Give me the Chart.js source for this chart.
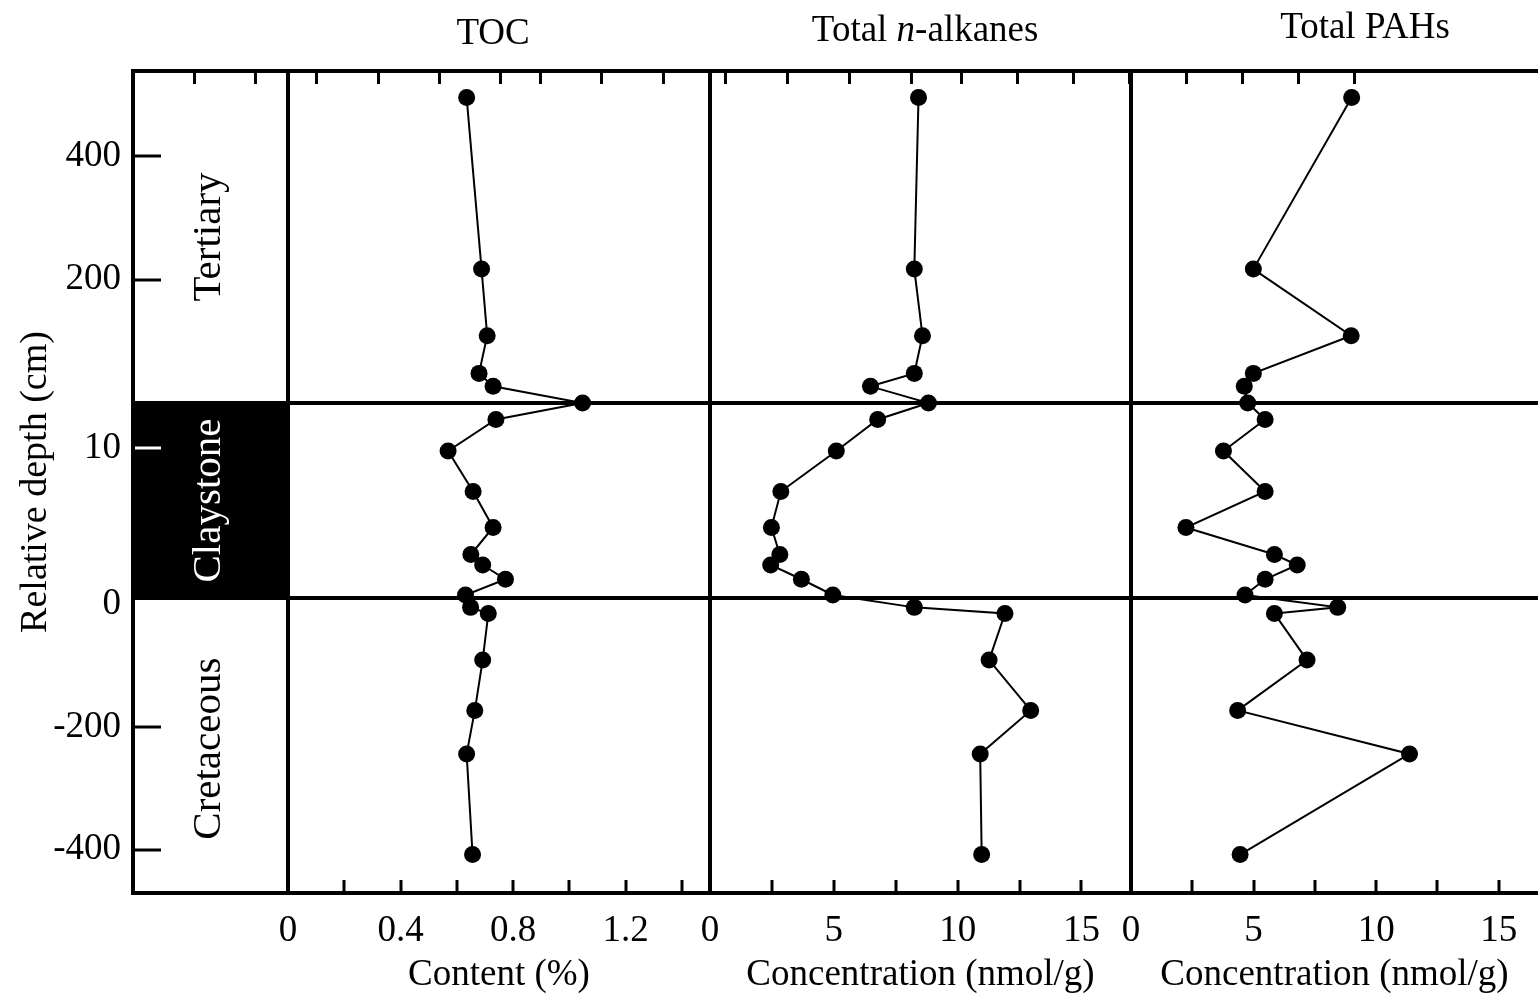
<!DOCTYPE html>
<html>
<head>
<meta charset="utf-8">
<title>TOC, n-alkanes and PAHs across the claystone</title>
<script src="https://cdn.jsdelivr.net/npm/chart.js@4.4.1/dist/chart.umd.min.js"></script>
<style>
  html, body { margin: 0; padding: 0; background: #fff; }
  #wrap { width: 1538px; height: 1000px; }
</style>
</head>
<body>
<div id="wrap"><canvas id="depthChart" width="1538" height="1000"></canvas></div>
<script>
// samples from top to bottom; zone T = Tertiary, C = claystone, K = Cretaceous
const sampleZone = ["T", "T", "T", "T", "T", "T", "C", "C", "C", "C", "C", "C", "C", "C", "K", "K", "K", "K", "K", "K"];
const sampleDepth = [495, 217, 109, 48, 27, 0, 11.9, 9.8, 7.1, 4.7, 2.9, 2.2, 1.25, 0.2, -5, -15, -91, -173, -244, -408];

const tocValues = [0.635, 0.688, 0.708, 0.679, 0.729, 1.047, 0.739, 0.569, 0.658, 0.729, 0.65, 0.692, 0.773, 0.631, 0.649, 0.712, 0.692, 0.664, 0.635, 0.656];
const alkaneValues = [8.42, 8.25, 8.58, 8.25, 6.48, 8.82, 6.77, 5.1, 2.86, 2.48, 2.82, 2.45, 3.69, 4.96, 8.25, 11.91, 11.27, 12.95, 10.91, 10.97];
const pahValues = [9.0, 4.99, 8.98, 4.99, 4.62, 4.76, 5.47, 3.77, 5.47, 2.24, 5.85, 6.78, 5.47, 4.65, 8.43, 5.85, 7.18, 4.35, 11.36, 4.45];

// depth axis ticks
const yTickZones = ["K", "K", "K", "C", "T", "T"];
const yTickDepths = [-400, -200, 0, 10, 200, 400];
const yTickLabels = ["-400", "-200", "0", "10", "200", "400"];
const claystoneBase = 0;
const claystoneTop = 13;

// concentration axes
const tocTicks = [0, 0.2, 0.4, 0.6, 0.8, 1.0, 1.2, 1.4];
const tocTickLabels = ["0", "", "0.4", "", "0.8", "", "1.2", ""];
const concTicks = [0, 2.5, 5, 7.5, 10, 12.5, 15];
const concTickLabels = ["0", "", "5", "", "10", "", "15"];

const stratNames = ["Tertiary", "Claystone", "Cretaceous"];
const panelTitles = [
  [["TOC", false]],
  [["Total ", false], ["n", true], ["-alkanes", false]],
  [["Total PAHs", false]],
];
const bottomTitles = ["Content (%)", "Concentration (nmol/g)", "Concentration (nmol/g)"];

// the depth axis is broken into three linear pieces
const zoneAxis = {
  K: { start: 288.7, perCm: 0.6133 },
  C: { start: 295, perCm: 15 },
  T: { start: 490, perCm: 0.617 },
};
const depthAxisMax = 822;

function depthPos(zone, depth) {
  return zoneAxis[zone].start + zoneAxis[zone].perCm * depth;
}

const black = "#000";
const clear = "rgba(0,0,0,0)";
const serif = "'Liberation Serif', 'Times New Roman', serif";

let yTicks = yTickZones.map((zone, i) => ({
  pos: depthPos(zone, yTickDepths[i]),
  label: yTickLabels[i],
  zone: zone,
  depth: yTickDepths[i],
  boundary: false,
}));
[claystoneBase, claystoneTop].forEach((d) => {
  yTicks.push({ pos: depthPos("C", d), label: "", zone: "C", depth: d, boundary: true });
});
yTicks.sort((a, b) => a.pos - b.pos);

function isBoundary(c) {
  return c.tick !== undefined && yTicks[c.index] && yTicks[c.index].boundary;
}

function yTickColor(c) {
  if (c.tick === undefined) return black;
  const t = yTicks[c.index];
  if (!t || t.boundary) return clear;
  if (t.zone === "C") return "#fff";
  if (t.depth === 0) return clear;
  return black;
}

function bottomAxis(weight, min, max, tickVals, tickLabels, title) {
  return {
    type: "linear",
    position: "bottom",
    stack: "bottom",
    stackWeight: weight,
    min: min,
    max: max,
    afterBuildTicks: (scale) => {
      scale.ticks = tickVals.map((v) => ({ value: v }));
    },
    afterFit: (scale) => {
      scale.height = 107;
      scale.paddingLeft = 0;
      scale.paddingRight = 0;
    },
    ticks: {
      display: tickVals.length > 0,
      autoSkip: false,
      maxRotation: 0,
      padding: 29,
      color: black,
      font: { family: serif, size: 37 },
      callback: (v, i) => tickLabels[i],
    },
    grid: {
      drawOnChartArea: true,
      tickLength: -13,
      tickWidth: 3,
      tickColor: black,
      color: (c) => (c.tick && c.tick.value === 0 ? black : clear),
      lineWidth: (c) => (c.tick && c.tick.value === 0 ? 4 : 0),
    },
    border: { display: true, color: black, width: 4 },
    title: {
      display: !!title,
      text: title || "",
      color: black,
      font: { family: serif, size: 37 },
      padding: { top: 0, bottom: 3 },
    },
  };
}

function topAxis(weight, min, max, tickVals) {
  return {
    type: "linear",
    position: "top",
    stack: "top",
    stackWeight: weight,
    min: min,
    max: max,
    afterBuildTicks: (scale) => {
      scale.ticks = tickVals.map((v) => ({ value: v }));
    },
    afterFit: (scale) => {
      scale.height = 71;
      scale.paddingLeft = 0;
      scale.paddingRight = 0;
    },
    ticks: { display: false },
    grid: { drawOnChartArea: false, tickLength: -13, tickWidth: 3, tickColor: black, color: black },
    border: { display: true, color: black, width: 4 },
  };
}

function series(values, axisId) {
  return {
    data: values.map((v, i) => ({ x: v, y: depthPos(sampleZone[i], sampleDepth[i]) })),
    xAxisID: axisId,
    yAxisID: "y",
    borderColor: black,
    borderWidth: 2,
    backgroundColor: black,
    pointRadius: 8.5,
    pointHoverRadius: 8.5,
    pointBackgroundColor: black,
    pointBorderWidth: 0,
    fill: false,
    tension: 0,
  };
}

// black claystone band in the lithology column, drawn under the axes
const claystoneBand = {
  id: "claystoneBand",
  beforeDraw(chart) {
    const ctx = chart.ctx;
    const y = chart.scales.y;
    const xs = chart.scales.xs;
    const top = y.getPixelForValue(depthPos("C", claystoneTop));
    const bottom = y.getPixelForValue(depthPos("C", claystoneBase));
    ctx.save();
    ctx.fillStyle = black;
    ctx.fillRect(xs.left, top, xs.right - xs.left, bottom - top);
    ctx.restore();
  },
};

// lithology names, and the panel titles (one has an italic n)
const textLayer = {
  id: "textLayer",
  afterDraw(chart) {
    const ctx = chart.ctx;
    const y = chart.scales.y;
    const xs = chart.scales.xs;
    const zoneRanges = [
      [depthPos("C", claystoneTop), depthAxisMax],
      [depthPos("C", claystoneBase), depthPos("C", claystoneTop)],
      [0, depthPos("K", 0)],
    ];
    const zoneColors = [black, "#fff", black];

    ctx.save();
    ctx.textAlign = "center";
    ctx.textBaseline = "middle";
    ctx.font = "41px " + serif;
    stratNames.forEach((name, i) => {
      const cy = (y.getPixelForValue(zoneRanges[i][0]) + y.getPixelForValue(zoneRanges[i][1])) / 2;
      ctx.save();
      ctx.translate((xs.left + xs.right) / 2 - 1, cy);
      ctx.rotate(-Math.PI / 2);
      ctx.fillStyle = zoneColors[i];
      ctx.fillText(name, 0, 0);
      ctx.restore();
    });

    const titleAnchor = [0.486, 0.511, 0.575];
    const titleY = [34, 31, 28];
    ctx.fillStyle = black;
    ctx.textAlign = "left";
    ["xToc", "xAlk", "xPah"].forEach((id, k) => {
      const s = chart.scales[id];
      const parts = panelTitles[k];
      const fonts = parts.map((p) => (p[1] ? "italic " : "") + "37px " + serif);
      let total = 0;
      const widths = parts.map((p, j) => {
        ctx.font = fonts[j];
        const w = ctx.measureText(p[0]).width;
        total += w;
        return w;
      });
      let x = s.left + (s.right - s.left) * titleAnchor[k] - total / 2;
      parts.forEach((p, j) => {
        ctx.font = fonts[j];
        ctx.fillText(p[0], x, titleY[k]);
        x += widths[j];
      });
    });
    ctx.restore();
  },
};

const ctx = document.getElementById("depthChart").getContext("2d");
const chart = new Chart(ctx, {
  type: "line",
  data: {
    datasets: [
      series(tocValues, "xToc"),
      series(alkaneValues, "xAlk"),
      series(pahValues, "xPah"),
    ],
  },
  options: {
    responsive: false,
    animation: false,
    devicePixelRatio: 1,
    events: [],
    layout: { padding: 0, autoPadding: false },
    plugins: {
      legend: { display: false },
      tooltip: { enabled: false },
    },
    scales: {
      y: {
        type: "linear",
        position: "left",
        min: 0,
        max: depthAxisMax,
        afterBuildTicks: (scale) => {
          scale.ticks = yTicks.map((t) => ({ value: t.pos }));
        },
        afterFit: (scale) => {
          scale.width = 133;
          scale.paddingTop = 0;
          scale.paddingBottom = 0;
        },
        ticks: {
          autoSkip: false,
          padding: 40,
          color: black,
          font: { family: serif, size: 37 },
          callback: (v, i) => yTicks[i].label,
        },
        grid: {
          drawOnChartArea: true,
          tickLength: -28,
          tickWidth: 3,
          tickColor: yTickColor,
          color: (c) => (isBoundary(c) ? black : clear),
          lineWidth: (c) => (isBoundary(c) ? 4 : 0),
        },
        border: { display: true, color: black, width: 4 },
        title: {
          display: true,
          text: "Relative depth (cm)",
          color: black,
          font: { family: serif, size: 38 },
          padding: { top: 13, bottom: 0 },
        },
      },
      xs: bottomAxis(155, 0, 1, [], [], ""),
      xToc: bottomAxis(422, 0, 1.5, tocTicks, tocTickLabels, bottomTitles[0]),
      xAlk: bottomAxis(421, 0, 17, concTicks, concTickLabels, bottomTitles[1]),
      xPah: bottomAxis(407, 0, 16.6, concTicks, concTickLabels, bottomTitles[2]),
      xsTop: topAxis(155, 0, 1, []),
      xTocTop: topAxis(422, 0, 1.5, tocTicks),
      xAlkTop: topAxis(421, 0, 17, concTicks),
      xPahTop: topAxis(407, 0, 16.6, concTicks),
    },
  },
  plugins: [claystoneBand, textLayer],
});
</script>
</body>
</html>
